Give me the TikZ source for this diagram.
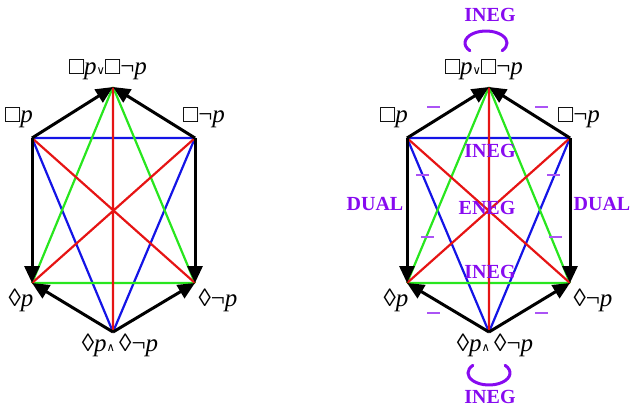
\documentclass[tikz,border=0pt]{standalone}
\usepackage{fontspec}
\setmainfont{Liberation Serif}
\newfontfamily\symfont{DejaVu Serif}
\usetikzlibrary{arrows.meta}
\definecolor{lpurple}{RGB}{135,10,240}
\definecolor{lblue}{RGB}{20,20,230}
\definecolor{lgreen}{RGB}{40,230,30}
\definecolor{lred}{RGB}{230,20,20}
\newcommand{\bx}{□}
\newcommand{\dm}{◊}
\newcommand{\smor}{{\symfont\fontsize{11.5}{11.5}\selectfont ∨}}
\newcommand{\smand}{{\symfont\fontsize{11.5}{11.5}\selectfont ∧}}
\tikzset{
  blk/.style={line width=3pt, -{Triangle[length=17pt,width=15pt]}},
  bl/.style={lblue, line width=2.2pt},
  gr/.style={lgreen, line width=2.2pt},
  rd/.style={lred, line width=2.2pt},
  lab/.style={font=\fontsize{25}{28}\selectfont, inner sep=0pt},
  plab/.style={font=\fontsize{20}{22}\selectfont\bfseries, text=lpurple, inner sep=0pt},
  dsh/.style={lpurple!70, line width=1.6pt},
  loop/.style={lpurple, line width=3pt, line cap=round}
}
\begin{document}
\begin{tikzpicture}[x=1pt,y=-1pt]
\useasboundingbox (0,0) rectangle (632,407);
% ---------- left hexagon ----------
\coordinate (aT) at (113,87);
\coordinate (aUL) at (32,138);
\coordinate (aUR) at (195,138);
\coordinate (aLL) at (32,283);
\coordinate (aLR) at (195,283);
\coordinate (aB) at (113,332);
\draw[bl] (aUL) -- (aUR) (aUL) -- (aB) (aUR) -- (aB);
\draw[gr] (aLL) -- (aLR) (aLL) -- (aT) (aLR) -- (aT);
\draw[rd] (aT) -- (aB) (aUL) -- (aLR) (aUR) -- (aLL);
\draw[blk] (aUL) -- (aT);
\draw[blk] (aUR) -- (aT);
\draw[blk] (aUL) -- (aLL);
\draw[blk] (aUR) -- (aLR);
\draw[blk] (aB) -- (aLL);
\draw[blk] (aB) -- (aLR);
\node[lab] (aTl) at (108,70) {\bx\textit{p}\smor\bx¬\textit{p}};
\node[lab] (aULl) at (19,118) {\bx\textit{p}};
\node[lab] (aURl) at (204,118) {\bx¬\textit{p}};
\node[lab] (aLLl) at (21,300) {\dm\textit{p}};
\node[lab] (aLRl) at (218,300) {\dm¬\textit{p}};
\node[lab] (aBl) at (120,345) {\dm\textit{p}\smand\,\dm¬\textit{p}};
% ---------- right hexagon ----------
\coordinate (bT) at (489,87);
\coordinate (bUL) at (407,138);
\coordinate (bUR) at (570,138);
\coordinate (bLL) at (407,283);
\coordinate (bLR) at (570,283);
\coordinate (bB) at (489,332);
\draw[bl] (bUL) -- (bUR) (bUL) -- (bB) (bUR) -- (bB);
\draw[gr] (bLL) -- (bLR) (bLL) -- (bT) (bLR) -- (bT);
\draw[rd] (bT) -- (bB) (bUL) -- (bLR) (bUR) -- (bLL);
\draw[blk] (bUL) -- (bT);
\draw[blk] (bUR) -- (bT);
\draw[blk] (bUL) -- (bLL);
\draw[blk] (bUR) -- (bLR);
\draw[blk] (bB) -- (bLL);
\draw[blk] (bB) -- (bLR);
\node[lab] (bTl) at (484,70) {\bx\textit{p}\smor\bx¬\textit{p}};
\node[lab] (bULl) at (394,118) {\bx\textit{p}};
\node[lab] (bURl) at (579,118) {\bx¬\textit{p}};
\node[lab] (bLLl) at (396,300) {\dm\textit{p}};
\node[lab] (bLRl) at (593,300) {\dm¬\textit{p}};
\node[lab] (bBl) at (495,345) {\dm\textit{p}\smand\,\dm¬\textit{p}};
% purple annotations
\node[plab] (ineg1) at (490,15) {INEG};
\draw[loop] (486,43) ++(140:21 and 12) arc[start angle=140, end angle=400, x radius=21, y radius=12];
\node[plab] (ineg2) at (490,151) {INEG};
\node[plab] (eneg) at (487,208) {ENEG};
\node[plab] (ineg3) at (490,272) {INEG};
\node[plab] (dual1) at (375,204) {DUAL};
\node[plab] (dual2) at (602,204) {DUAL};
\draw[loop] (489,373) ++(-40:21 and 12) arc[start angle=-40, end angle=220, x radius=21, y radius=12];
\node[plab] (ineg4) at (490,397) {INEG};
\draw[dsh] (427,107) -- (440,107);
\draw[dsh] (535,107) -- (548,107);
\draw[dsh] (416,175) -- (429,175);
\draw[dsh] (547,175) -- (560,175);
\draw[dsh] (421,237) -- (434,237);
\draw[dsh] (549,237) -- (562,237);
\draw[dsh] (427,313) -- (440,313);
\draw[dsh] (535,313) -- (548,313);
\end{tikzpicture}
\end{document}
